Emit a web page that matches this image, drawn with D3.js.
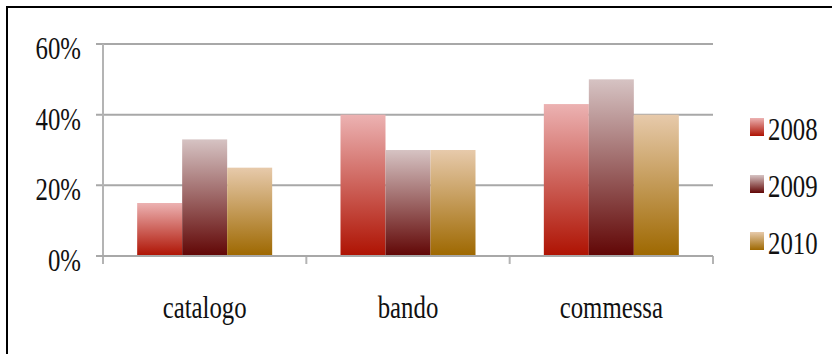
<!DOCTYPE html>
<html>
<head>
<meta charset="utf-8">
<script src="https://cdn.jsdelivr.net/npm/d3@7"></script>
<style>
html,body{margin:0;padding:0;background:#fff;}
svg{display:block;}
</style>
</head>
<body>
<svg id="chart" width="832" height="354"></svg>
<script>
const categories = ["catalogo", "bando", "commessa"];
const seriesNames = ["2008", "2009", "2010"];
const values2008 = [0.15, 0.40, 0.43];
const values2009 = [0.33, 0.30, 0.50];
const values2010 = [0.25, 0.30, 0.40];
const yTicks = [0, 0.2, 0.4, 0.6];
const seriesValues = [values2008, values2009, values2010];
const gradColors = [
  ["#ecb2b2", "#ae1202"],
  ["#d6c3c3", "#610605"],
  ["#e7caab", "#9e6800"]
];

const FONT = "Liberation Serif";
const FS = 31;
const SX = 0.8;
const svg = d3.select("#chart");
const X0 = 103, X1 = 713, Y0 = 256, Y1 = 44;

// frame
svg.append("line").attr("x1", 7).attr("x2", 832).attr("y1", 7).attr("y2", 7)
  .attr("stroke", "#000").attr("stroke-width", 2);
svg.append("line").attr("x1", 7).attr("x2", 7).attr("y1", 6).attr("y2", 354)
  .attr("stroke", "#000").attr("stroke-width", 2);

const defs = svg.append("defs");
gradColors.forEach((c, i) => {
  const g = defs.append("linearGradient").attr("id", "g" + i)
    .attr("x1", 0).attr("y1", 0).attr("x2", 0).attr("y2", 1);
  g.append("stop").attr("offset", "0%").attr("stop-color", c[0]);
  g.append("stop").attr("offset", "100%").attr("stop-color", c[1]);
});

const y = d3.scaleLinear().domain([0, 0.6]).range([Y0, Y1]);
const x = d3.scaleBand().domain(categories).range([X0, X1]).paddingInner(0).paddingOuter(0);
const inner = d3.scaleBand().domain(seriesNames).range([0, 135]);
const fmt = d3.format(".0%");

// gridlines
svg.append("g").selectAll("line").data(yTicks).join("line")
  .attr("x1", X0 - 7).attr("x2", X1)
  .attr("y1", d => y(d)).attr("y2", d => y(d))
  .attr("stroke", "#a8a8a8").attr("stroke-width", 2);

// vertical axis line
svg.append("line").attr("x1", X0).attr("x2", X0).attr("y1", Y1).attr("y2", Y0 + 8)
  .attr("stroke", "#b4b4b4").attr("stroke-width", 2);

// category ticks
const catEdges = categories.map(c => x(c)).concat([X1]);
svg.append("g").selectAll("line").data(catEdges.slice(1)).join("line")
  .attr("x1", d => d).attr("x2", d => d).attr("y1", Y0).attr("y2", Y0 + 8)
  .attr("stroke", "#b4b4b4").attr("stroke-width", 2);

// y labels
svg.append("g").selectAll("text").data(yTicks).join("text")
  .attr("transform", d => `translate(81,${y(d) + 15}) scale(${SX},1)`)
  .attr("text-anchor", "end").attr("font-size", FS).attr("font-family", FONT).attr("fill", "#111")
  .text(d => fmt(d));

// bars
const groups = svg.append("g").selectAll("g").data(categories).join("g")
  .attr("transform", c => `translate(${x(c) + (x.bandwidth() - 135) / 2},0)`);
seriesNames.forEach((s, si) => {
  groups.append("rect")
    .attr("x", inner(s))
    .attr("width", inner.bandwidth())
    .attr("y", (c, ci) => y(seriesValues[si][ci]))
    .attr("height", (c, ci) => Y0 - y(seriesValues[si][ci]))
    .attr("fill", `url(#g${si})`);
});
// baseline over bars
svg.append("line").attr("x1", X0 - 7).attr("x2", X1).attr("y1", Y0).attr("y2", Y0)
  .attr("stroke", "#a8a8a8").attr("stroke-width", 2);

// category labels
svg.append("g").selectAll("text").data(categories).join("text")
  .attr("transform", c => `translate(${x(c) + x.bandwidth() / 2},318) scale(${SX},1)`)
  .attr("text-anchor", "middle").attr("font-size", FS).attr("font-family", FONT).attr("fill", "#111")
  .text(c => c);

// legend
const leg = svg.append("g").selectAll("g").data(seriesNames).join("g")
  .attr("transform", (d, i) => `translate(750,${118 + i * 57})`);
leg.append("rect").attr("width", 14).attr("height", 18)
  .attr("fill", (d, i) => `url(#g${i})`);
leg.append("text")
  .attr("transform", `translate(18,22) scale(${SX},1)`)
  .attr("font-size", FS).attr("font-family", FONT).attr("fill", "#111")
  .text(d => d);
</script>
</body>
</html>
